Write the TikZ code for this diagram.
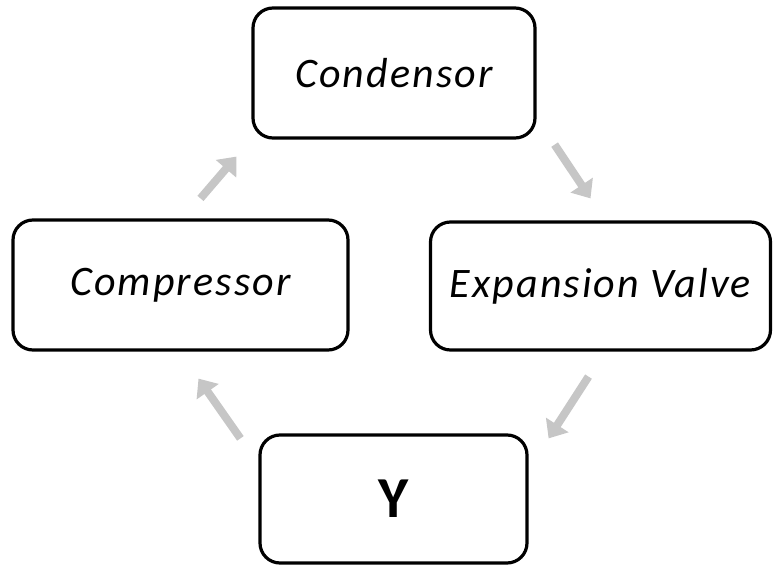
\documentclass[tikz,border=0pt]{standalone}
\usepackage{fontspec}
\setmainfont{Carlito}
\usetikzlibrary{arrows.meta}

\tikzset{
    stage/.style={draw, line width=3.2pt, rounded corners=20pt, inner sep=0pt,
        font=\fontsize{42}{46}\selectfont\itshape\addfontfeatures{LetterSpace=5}},
    flow/.style={draw=gray!45, line width=8pt, -{Triangle[length=16pt, width=26pt]}}
}

\begin{document}
\begin{tikzpicture}[x=1pt, y=-1pt]
        \useasboundingbox (0,0) rectangle (773,567);
        \node[stage, minimum width=282pt, minimum height=130pt] (cond) at (394,73){Condensor};
        \node[stage, minimum width=335pt, minimum height=130pt] (comp) at (180.5,285){Compressor};
        \node[stage, minimum width=340pt, minimum height=128pt] (expv) at (600.5,286){Expansion Valve};
        \node[stage, minimum width=267pt, minimum height=128pt, font=\fontsize{58}{62}\selectfont\bfseries] (yunit) at (393.5,499){Y};
        \draw[flow]([xshift=20pt, yshift=20pt]comp.north)--([xshift=-15pt, yshift=-17pt]cond.south west);
        \draw[flow]([xshift=18pt, yshift=-5pt]cond.south east)--([xshift=-10pt, yshift=22pt]expv.north);
        \draw[flow]([xshift=-12pt, yshift=-25pt]expv.south)--([xshift=20pt, yshift=-5pt]yunit.north east);
        \draw[flow]([xshift=-18pt, yshift=-5pt]yunit.north west)--([xshift=18pt, yshift=-27pt]comp.south);
    \end{tikzpicture}
\end{document}
